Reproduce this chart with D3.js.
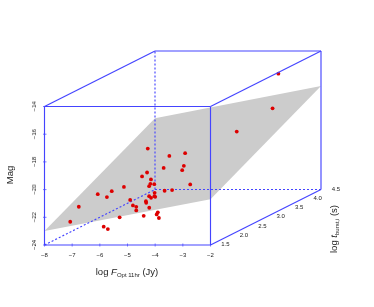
<!DOCTYPE html>
<html>
<head>
<meta charset="utf-8">
<script src="https://d3js.org/d3.v7.min.js"></script>
<style>
body { margin: 0; background: #fff; }
svg { display: block; font-family: "Liberation Sans", sans-serif; }
text { filter: blur(0.3px); }
.tick-label { font-size: 6px; fill: #222; }
.axis-title { font-size: 9.5px; fill: #222; }
</style>
</head>
<body>
<svg width="374" height="307"></svg>
<script>
'use strict';

var logF = [-6.93, -6.15, -5.58, -5.69, -4.96, -5.02, -6.29, -6.47, -6.15, -6.17, -6.03, -5.55, -6.46, -4.73, -6.90,
    -6.74, -6.41, -4.99, -4.72, -5.35, -5.55, -5.48, -5.36, -5.33, -5.57, -5.00, -4.99, -5.47, -5.35, -5.35,
    -4.88, -5.95, -5.08, -4.57, -4.61, -4.53, -5.86, -5.71, -6.76, -7.07, -3.54, -3.75, -4.38];
var logT = [3.5, 3.5, 3.5, 3.0, 3.0, 3.0, 3.0, 3.0, 3.0, 3.0, 3.0, 2.5, 2.5, 3.0, 2.5,
    2.0, 2.0, 2.5, 2.5, 2.5, 2.5, 2.5, 2.5, 2.5, 2.0, 2.0, 2.0, 2.0, 2.0, 2.0,
    2.0, 2.0, 2.0, 2.0, 2.0, 2.0, 1.5, 1.5, 1.5, 1.5, 4.5, 4.5, 4.0];
var mag = [-19.71, -20.24, -20.04, -20.44, -20.29, -20.60, -20.77, -21.05, -21.27, -21.59, -21.61, -21.09, -21.14, -21.63, -21.45,
    -21.00, -21.21, -21.42, -21.37, -21.57, -21.81, -21.93, -21.81, -21.86, -21.41, -21.50, -21.62, -21.81, -21.91, -22.17,
    -21.98, -22.67, -22.56, -22.31, -22.46, -22.72, -22.68, -22.85, -21.24, -22.32, -15.64, -18.14, -19.15];

// fitted plane corners
var planeF = [-8, -2, -2, -8];
var planeT = [1.5, 1.5, 4.5, 4.5];
var planeMag = [-22.99, -20.69, -16.53, -18.86];

var xTicks = [-8, -7, -6, -5, -4, -3, -2];
var yTicks = [-24, -22, -20, -18, -16, -14];
var zTicks = [1.5, 2, 2.5, 3, 3.5, 4, 4.5];

var blue = '#4444ff';
var svg = d3.select('svg');

var x = d3.scaleLinear().domain([-8, -2]).range([44.5, 210.5]);
var y = d3.scaleLinear().domain([-24, -14]).range([245, 106.5]);
var zx = d3.scaleLinear().domain([1.5, 4.5]).range([0, 110.5]);
var zy = d3.scaleLinear().domain([1.5, 4.5]).range([0, -55.5]);

// oblique projection of the box
function px(f, t) { return x(f) + zx(t); }
function py(m, t) { return y(m) + zy(t); }

function edge(f0, m0, t0, f1, m1, t1, dashed) {
    svg.append('line')
        .attr('x1', px(f0, t0)).attr('y1', py(m0, t0))
        .attr('x2', px(f1, t1)).attr('y2', py(m1, t1))
        .attr('stroke', blue)
        .attr('stroke-width', 1.15)
        .attr('stroke-dasharray', dashed ? '2,2' : null);
}

// regression plane
svg.append('polygon')
    .attr('points', planeF.map(function(f, i) {
        return px(f, planeT[i]) + ',' + py(planeMag[i], planeT[i]);
    }).join(' '))
    .attr('fill', '#cccccc');

// hidden edges
edge(-8, -24, 1.5, -8, -24, 4.5, true);
edge(-8, -24, 4.5, -2, -24, 4.5, true);
edge(-8, -24, 4.5, -8, -14, 4.5, true);

svg.selectAll('.burst')
    .data(logF)
    .enter()
    .append('circle')
    .attr('class', 'burst')
    .attr('cx', function(d, i) { return px(d, logT[i]); })
    .attr('cy', function(d, i) { return py(mag[i], logT[i]); })
    .attr('r', 1.9)
    .attr('fill', '#dd0000');

// visible edges
edge(-8, -24, 1.5, -2, -24, 1.5);
edge(-8, -24, 1.5, -8, -14, 1.5);
edge(-2, -24, 1.5, -2, -14, 1.5);
edge(-8, -14, 1.5, -2, -14, 1.5);
edge(-8, -14, 1.5, -8, -14, 4.5);
edge(-2, -14, 1.5, -2, -14, 4.5);
edge(-8, -14, 4.5, -2, -14, 4.5);
edge(-2, -24, 1.5, -2, -24, 4.5);
edge(-2, -24, 4.5, -2, -14, 4.5);

// x axis
svg.selectAll('.x-tick')
    .data(xTicks)
    .enter()
    .append('line')
    .attr('class', 'x-tick')
    .attr('x1', function(d) { return x(d); })
    .attr('x2', function(d) { return x(d); })
    .attr('y1', 243.5)
    .attr('y2', 246.5)
    .attr('stroke', blue)
    .attr('stroke-width', 0.7);
svg.selectAll('.x-label')
    .data(xTicks)
    .enter()
    .append('text')
    .attr('class', 'tick-label x-label')
    .attr('x', function(d) { return x(d); })
    .attr('y', 256.5)
    .attr('text-anchor', 'middle')
    .text(function(d) { return '\u2212' + Math.abs(d); });

// y axis
svg.selectAll('.y-tick')
    .data(yTicks)
    .enter()
    .append('line')
    .attr('class', 'y-tick')
    .attr('x1', 43)
    .attr('x2', 46.5)
    .attr('y1', function(d) { return y(d); })
    .attr('y2', function(d) { return y(d); })
    .attr('stroke', blue)
    .attr('stroke-width', 0.7);
svg.selectAll('.y-label')
    .data(yTicks)
    .enter()
    .append('text')
    .attr('class', 'tick-label y-label')
    .attr('transform', function(d) { return 'translate(36,' + y(d) + ') rotate(-90)'; })
    .attr('text-anchor', 'middle')
    .text(function(d) { return '\u2212' + Math.abs(d); });

// depth axis
svg.selectAll('.z-label')
    .data(zTicks)
    .enter()
    .append('text')
    .attr('class', 'tick-label z-label')
    .attr('x', function(d) { return px(-2, d) + 15; })
    .attr('y', function(d) { return py(-24, d) + 1; })
    .attr('text-anchor', 'middle')
    .text(function(d) { return d3.format('.1f')(d); });

// axis titles
svg.append('text')
    .attr('class', 'axis-title')
    .attr('transform', 'translate(13,175) rotate(-90)')
    .attr('text-anchor', 'middle')
    .text('Mag');

var xTitle = svg.append('text')
    .attr('class', 'axis-title')
    .attr('x', 127)
    .attr('y', 275)
    .attr('text-anchor', 'middle');
xTitle.append('tspan').text('log ');
xTitle.append('tspan').attr('font-style', 'italic').text('F');
xTitle.append('tspan').attr('font-size', '6px').attr('dy', 1.5).text('Opt 11hr');
xTitle.append('tspan').attr('dy', -1.5).text(' (Jy)');

var zTitle = svg.append('text')
    .attr('class', 'axis-title')
    .attr('transform', 'translate(337,229) rotate(-90)')
    .attr('text-anchor', 'middle');
zTitle.append('tspan').text('log ');
zTitle.append('tspan').attr('font-style', 'italic').text('t');
zTitle.append('tspan').attr('font-size', '6px').attr('dy', 1.5).text('burst,i');
zTitle.append('tspan').attr('dy', -1.5).text(' (s)');
</script>
</body>
</html>
